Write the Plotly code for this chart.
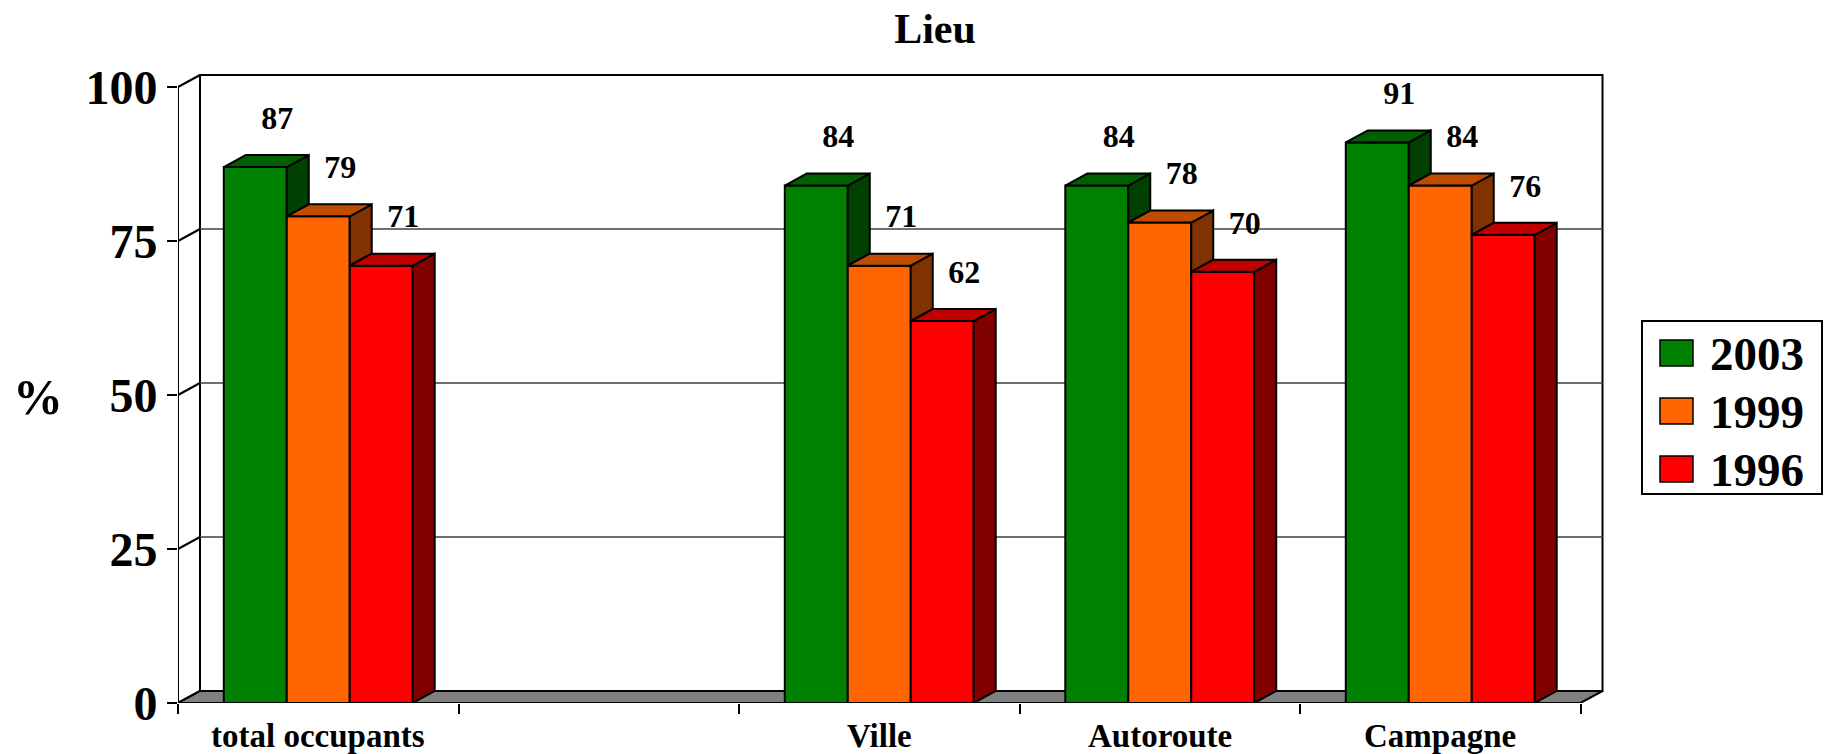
import plotly.graph_objects as go

# ---------------- data ----------------
categories = ["total occupants", "", "Ville", "Autoroute", "Campagne"]
series_names = ["2003", "1999", "1996"]
values_2003 = [87, None, 84, 84, 91]
values_1999 = [79, None, 71, 78, 84]
values_1996 = [71, None, 62, 70, 76]
y_ticks = [0, 25, 50, 75, 100]
title_text = "Lieu"
y_title = "%"

series_values = [values_2003, values_1999, values_1996]
front_colors = ["#008000", "#FF6600", "#FF0000"]
top_colors = ["#006000", "#C04C00", "#C00000"]
side_colors = ["#004000", "#803300", "#800000"]

# ---------------- layout geometry ----------------
W, H = 1829, 754
L, R, T, B = 178, 224, 72, 51
PW = W - L - R
PH = H - T - B
CAT_PX = 280.5          # pixels per category
UNIT_PX = 6.16          # pixels per percentage point
DEPTH_X_PX, DEPTH_Y_PX = 22, 12
n = len(categories)
dxu = DEPTH_X_PX / CAT_PX
dyu = DEPTH_Y_PX / UNIT_PX
x_range = [-0.5, -0.5 + PW / CAT_PX]
y_range = [0, PH / UNIT_PX]
bar_w = 0.2245
label_gap = 7.5
FONT = "Liberation Serif"


def px2paper_x(px):
    return (px - L) / PW


def px2paper_y(py):
    return (H - B - py) / PH


fig = go.Figure()

# front faces: real bars
for s, (name, vals) in enumerate(zip(series_names, series_values)):
    xs, ys = [], []
    for i, v in enumerate(vals):
        if v is None:
            continue
        xs.append(i + (s - 1) * bar_w)
        ys.append(v)
    fig.add_trace(go.Bar(
        x=xs, y=ys, width=bar_w, name=name, showlegend=False,
        marker=dict(color=front_colors[s], line=dict(color="black", width=2)),
        hoverinfo="x+y",
    ))

# 3D side and top faces
for s, vals in enumerate(series_values):
    side_x, side_y, top_x, top_y = [], [], [], []
    for i, v in enumerate(vals):
        if v is None:
            continue
        x0 = i + (s - 1) * bar_w - bar_w / 2
        x1 = x0 + bar_w
        nxt = series_values[s + 1][i] if s + 1 < len(series_values) else None
        if nxt is None:
            side_x += [x1, x1 + dxu, x1 + dxu, x1, x1, None]
            side_y += [0, dyu, v + dyu, v, 0, None]
        elif nxt < v:
            side_x += [x1, x1 + dxu, x1 + dxu, x1, x1, None]
            side_y += [nxt, nxt + dyu, v + dyu, v, nxt, None]
        top_x += [x0, x1, x1 + dxu, x0 + dxu, x0, None]
        top_y += [v, v, v + dyu, v + dyu, v, None]
    fig.add_trace(go.Scatter(
        x=side_x, y=side_y, mode="lines", fill="toself",
        fillcolor=side_colors[s], line=dict(color="black", width=2),
        showlegend=False, hoverinfo="skip"))
    fig.add_trace(go.Scatter(
        x=top_x, y=top_y, mode="lines", fill="toself",
        fillcolor=top_colors[s], line=dict(color="black", width=2),
        showlegend=False, hoverinfo="skip"))

# value labels
for s, vals in enumerate(series_values):
    xs, ys, txt = [], [], []
    for i, v in enumerate(vals):
        if v is None:
            continue
        xs.append(i + (s - 1) * bar_w + dxu)
        ys.append(v + label_gap)
        txt.append(str(v))
    fig.add_trace(go.Scatter(
        x=xs, y=ys, mode="text", text=txt, textposition="middle center",
        textfont=dict(family=FONT, size=32, color="black", weight="bold"),
        showlegend=False, hoverinfo="skip"))

# ---------------- walls, floor, gridlines ----------------
shapes = []
x_left = -0.5
x_right = n - 0.5
# back wall
shapes.append(dict(type="rect", xref="x", yref="y", layer="below",
                   x0=x_left + dxu, x1=x_right + dxu, y0=dyu, y1=100 + dyu,
                   line=dict(color="black", width=2), fillcolor="white"))
# gridlines on back wall
for t in y_ticks[1:-1]:
    shapes.append(dict(type="line", xref="x", yref="y", layer="below",
                       x0=x_left + dxu, x1=x_right + dxu, y0=t + dyu, y1=t + dyu,
                       line=dict(color="#404040", width=1.5)))
# side wall diagonals
for t in y_ticks:
    shapes.append(dict(type="line", xref="x", yref="y", layer="below",
                       x0=x_left, x1=x_left + dxu, y0=t, y1=t + dyu,
                       line=dict(color="black", width=2)))
# floor
floor_path = (f"M {x_left},0 L {x_right},0 L {x_right + dxu},{dyu} "
              f"L {x_left + dxu},{dyu} Z")
shapes.append(dict(type="path", xref="x", yref="y", layer="below", path=floor_path,
                   fillcolor="#808080", line=dict(color="black", width=2)))
# front value axis line
shapes.append(dict(type="line", xref="x", yref="y", layer="below",
                   x0=x_left, x1=x_left, y0=0, y1=100,
                   line=dict(color="black", width=2)))

# ---------------- manual legend ----------------
annotations = []
shapes.append(dict(type="rect", xref="paper", yref="paper",
                   x0=px2paper_x(1642), x1=px2paper_x(1822),
                   y0=px2paper_y(494), y1=px2paper_y(321),
                   line=dict(color="black", width=2), fillcolor="white"))
row_centers = [353, 411, 469]
for s, name in enumerate(series_names):
    cy = row_centers[s]
    shapes.append(dict(type="rect", xref="paper", yref="paper",
                       x0=px2paper_x(1660), x1=px2paper_x(1693),
                       y0=px2paper_y(cy + 13), y1=px2paper_y(cy - 13),
                       line=dict(color="black", width=1.5), fillcolor=front_colors[s]))
    annotations.append(dict(xref="paper", yref="paper", x=px2paper_x(1708),
                            y=px2paper_y(cy + 1), text=name, showarrow=False,
                            xanchor="left", yanchor="middle",
                            font=dict(family=FONT, size=47, color="black", weight="bold")))

# category labels
for i, c in enumerate(categories):
    if not c:
        continue
    annotations.append(dict(xref="x", yref="paper", x=i, y=0, yshift=-33,
                            text=c, showarrow=False, xanchor="center", yanchor="middle",
                            font=dict(family=FONT, size=33, color="black", weight="bold")))

# y axis title
annotations.append(dict(xref="paper", yref="paper", x=px2paper_x(38), y=px2paper_y(397),
                        text=y_title, showarrow=False, xanchor="center", yanchor="middle",
                        font=dict(family=FONT, size=50, color="black", weight="bold")))

fig.update_layout(
    width=W, height=H,
    margin=dict(l=L, r=R, t=T, b=B, autoexpand=False),
    paper_bgcolor="white", plot_bgcolor="rgba(0,0,0,0)",
    barmode="overlay",
    title=dict(text=title_text, x=935 / W, y=1 - 28 / H, xanchor="center", yanchor="middle",
               xref="container", yref="container",
               font=dict(family=FONT, size=42, color="black", weight="bold")),
    xaxis=dict(range=x_range, tickvals=[k - 0.5 for k in range(n + 1)],
               showticklabels=False, ticks="outside", ticklen=10, tickwidth=2,
               tickcolor="black", showgrid=False, zeroline=False, showline=False,
               fixedrange=True),
    yaxis=dict(range=y_range, tickvals=y_ticks, ticks="outside", ticklen=10,
               tickwidth=2, tickcolor="black", showgrid=False, zeroline=False,
               showline=False, fixedrange=True,
               tickfont=dict(family=FONT, size=48, color="black", weight="bold")),
    shapes=shapes, annotations=annotations, showlegend=False,
)

fig.write_html(
    "out.html",
    config={"displayModeBar": False},
    post_script="document.body.style.margin='0';document.body.style.overflow='hidden';",
)
